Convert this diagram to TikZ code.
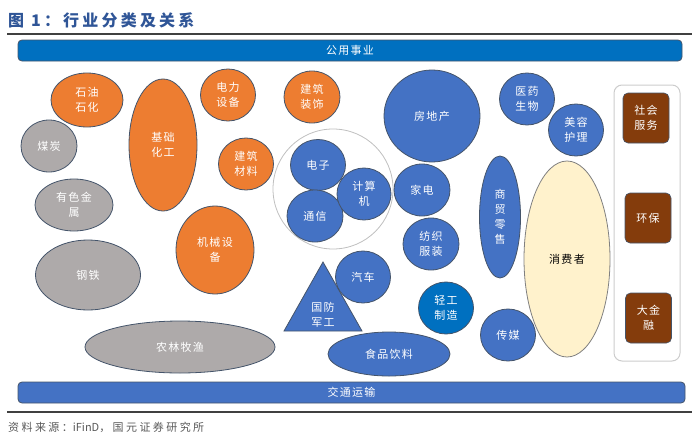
\documentclass[tikz,border=0pt]{standalone}
\usepackage{fontspec}
\newfontfamily\cjk[LetterSpace=12]{Noto Sans CJK SC}
\newfontfamily\cjkt[LetterSpace=20]{Noto Sans CJK SC}
\newfontfamily\cjks[LetterSpace=22]{Noto Sans CJK SC}
\newfontfamily\cjkn{Noto Sans CJK SC}
\usetikzlibrary{shapes.geometric}
\definecolor{orng}{HTML}{ED7D31}
\definecolor{gry}{HTML}{AEAAAA}
\definecolor{blu}{HTML}{4472C4}
\definecolor{dblu}{HTML}{0070C0}
\definecolor{brn}{HTML}{843C0C}
\definecolor{cream}{HTML}{FFF2CC}
\definecolor{edge}{HTML}{44546A}
\definecolor{ttl}{HTML}{2F5597}
\tikzset{
  lab/.style={font=\cjk\fontsize{11}{15}\selectfont, text=white, align=center},
  ell/.style={ellipse, draw=edge, line width=0.8pt, inner sep=0pt, lab},
  orgell/.style={ell, fill=orng},
  gryell/.style={ell, fill=gry},
  bluell/.style={ell, fill=blu},
  brnbox/.style={rounded corners=5pt, fill=brn, draw=edge, line width=0.6pt, minimum width=46, minimum height=50, inner sep=0pt, lab},
  bar/.style={rounded corners=4pt, draw=edge, line width=0.8pt, minimum width=666, minimum height=21, inner sep=0pt, lab}
}
\begin{document}
\begin{tikzpicture}[x=1pt,y=-1pt]
\useasboundingbox (0,0) rectangle (700,447);
% title
\node[anchor=west, text=ttl, font=\cjkt\bfseries\fontsize{16}{18}\selectfont, inner sep=0pt] (title) at (8,20) {图 1：行业分类及关系};
\coordinate (tl1) at (7,34); \coordinate (tr1) at (692,34);
\draw[line width=1.6pt, draw=black!75] (tl1) -- (tr1);
% bars
\node[bar, fill=dblu, minimum width=664] (gongyong) at (350,50.5) {公用事业};
\node[bar, fill=blu, minimum width=667] (jiaotong) at (351.5,392.5) {交通运输};
\coordinate (bl1) at (7,412); \coordinate (br1) at (692,412);
\draw[line width=1.6pt, draw=black!75] (bl1) -- (br1);
\node[anchor=west, text=black!65, font=\cjks\fontsize{11}{13}\selectfont, inner sep=0pt] (source) at (8,427) {资料来源：{\cjkn iFinD}，国元证券研究所};
% orange
\node[orgell, minimum width=72, minimum height=54] (shihua) at (87,100) {石油\\石化};
\node[orgell, minimum width=68, minimum height=132] (jichu) at (163,145) {基础\\化工};
\node[orgell, minimum width=55, minimum height=52] (dianli) at (228,95) {电力\\设备};
\node[orgell, minimum width=56, minimum height=52] (jianzhu) at (312,97) {建筑\\装饰};
\node[orgell, minimum width=55, minimum height=52] (jiancai) at (246,164) {建筑\\材料};
\node[orgell, minimum width=78, minimum height=88] (jixie) at (215,250) {机械设\\备};
% gray
\node[gryell, minimum width=56, minimum height=52] (meitan) at (49,146) {煤炭};
\node[gryell, minimum width=78, minimum height=52] (youse) at (74,205) {有色金\\属};
\node[gryell, minimum width=105, minimum height=70] (gangtie) at (88,275) {钢铁};
\node[gryell, minimum width=190, minimum height=52] (nonglin) at (180,347) {农林牧渔};
% TMT circle
\node[circle, draw=black!25, line width=0.8pt, minimum size=120, inner sep=0pt] (tmt) at (333,189) {};
\node[bluell, minimum width=55, minimum height=51] (dianzi) at (318,165) {电子};
\node[bluell, minimum width=56, minimum height=52] (tongxin) at (315,216) {通信};
\node[bluell, minimum width=54, minimum height=52] (jisuanji) at (364,194) {计算\\机};
% triangle
\coordinate (tA) at (323,262); \coordinate (tB) at (362,331); \coordinate (tC) at (284,331);
\draw[fill=blu, draw=edge, line width=0.8pt] (tA) -- (tB) -- (tC) -- cycle;
\node[lab] (guofang) at (323,315) {国防\\军工};
% blue
\node[bluell, minimum width=55, minimum height=52] (qiche) at (363,277) {汽车};
\node[bluell, minimum width=96, minimum height=92] (fangdichan) at (432,116) {房地产};
\node[bluell, minimum width=56, minimum height=52] (jiadian) at (422,190) {家电};
\node[bluell, minimum width=56, minimum height=52] (fangzhi) at (431,244) {纺织\\服装};
\node[ell, fill=dblu, minimum width=55, minimum height=52] (qinggong) at (446,308) {轻工\\制造};
\node[bluell, minimum width=122, minimum height=44] (shipin) at (389,354) {食品饮料};
\node[bluell, minimum width=55, minimum height=52] (chuanmei) at (508,335) {传媒};
\node[bluell, minimum width=55, minimum height=52] (yiyao) at (527,99) {医药\\生物};
\node[bluell, minimum width=55, minimum height=52] (meirong) at (576,130) {美容\\护理};
\node[bluell, minimum width=41, minimum height=122] (shangmao) at (500,217) {商\\贸\\零\\售};
\node[ell, fill=cream, draw=black!50, text=black, minimum width=86, minimum height=196] (xiaofei) at (567,259) {消费者};
% right box
\node[draw=black!20, line width=1pt, rounded corners=8pt, minimum width=66, minimum height=276, inner sep=0pt] (rbox) at (647,223) {};
\node[brnbox] (shehui) at (646,118) {社会\\服务};
\node[brnbox] (huanbao) at (648,218) {环保};
\node[brnbox] (dajinrong) at (648.5,318) {大金\\融};
\end{tikzpicture}
\end{document}
